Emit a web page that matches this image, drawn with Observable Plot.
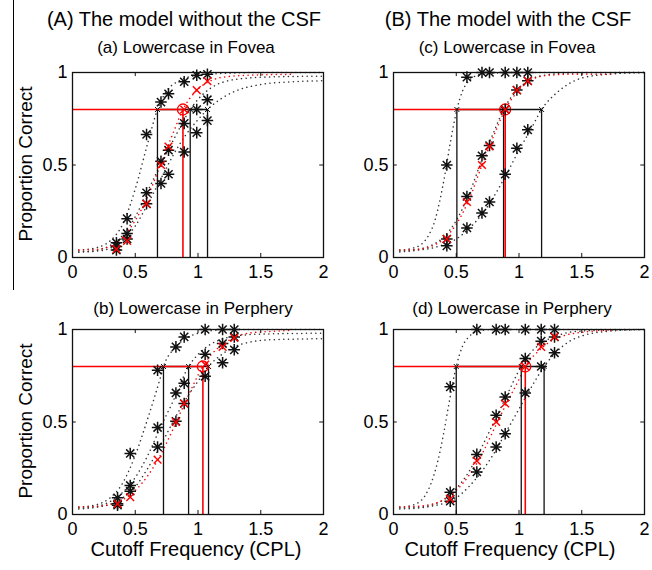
<!DOCTYPE html>
<html>
<head>
<meta charset="utf-8">
<script src="https://cdn.jsdelivr.net/npm/d3@7"></script>
<script src="https://cdn.jsdelivr.net/npm/@observablehq/plot@0.6"></script>
<style>
  body { margin: 0; background: #fff; }
  #fig { position: relative; width: 652px; height: 570px; background: #fff; overflow: hidden;
         font-family: "Liberation Sans", Arial, Helvetica, sans-serif; color: #000; }
  .lbl { position: absolute; white-space: nowrap; line-height: 1; transform: translate(-50%, -50%); }
  .vlbl { position: absolute; white-space: nowrap; line-height: 1; transform: translate(-50%, -50%) rotate(-90deg); }
  .panel { position: absolute; }
  .bar { position: absolute; left: 13px; top: 0; width: 1px; height: 290px; background: #000; }
</style>
</head>
<body>
<div id="fig"></div>
<script>
// Axis ticks and the 80% threshold criterion
const xTicks = [0, 0.5, 1, 1.5, 2];
const yTicks = [0, 0.5, 1];
const criterion = 0.8;

// Column titles, panel titles, axis labels
const columnTitles = ["(A) The model without the CSF", "(B) The model with the CSF"];
const panelTitles = ["(a) Lowercase in Fovea", "(b) Lowercase in Perphery", "(c) Lowercase in Fovea", "(d) Lowercase in Perphery"];
const xLabel = "Cutoff Frequency (CPL)";
const yLabel = "Proportion Correct";

// ---- (a) Lowercase in Fovea, without CSF ----
const aCurveLeft = [[0.05,0.04],[0.2,0.055],[0.3,0.09],[0.4,0.18],[0.5,0.37],[0.6,0.62],[0.677,0.8],[0.75,0.9],[0.85,0.955],[1.0,0.985],[1.2,0.995],[1.5,1.0],[2.0,1.0]];
const aCurveMid = [[0.05,0.03],[0.2,0.04],[0.3,0.065],[0.4,0.12],[0.5,0.22],[0.6,0.36],[0.7,0.5],[0.8,0.63],[0.938,0.8],[1.0,0.855],[1.1,0.915],[1.2,0.948],[1.4,0.97],[1.7,0.978],[2.0,0.98]];
const aCurveRight = [[0.05,0.03],[0.2,0.035],[0.3,0.05],[0.4,0.09],[0.5,0.17],[0.6,0.29],[0.7,0.42],[0.8,0.55],[0.9,0.66],[1.0,0.745],[1.076,0.8],[1.2,0.865],[1.3,0.9],[1.5,0.935],[1.75,0.95],[2.0,0.955]];
const aCurveRed = [[0.05,0.04],[0.2,0.045],[0.3,0.06],[0.4,0.11],[0.5,0.2],[0.6,0.33],[0.7,0.5],[0.8,0.67],[0.88,0.8],[1.0,0.91],[1.1,0.955],[1.2,0.975],[1.4,0.985],[1.75,0.99]];
const aStars = [[0.35,0.08],[0.35,0.06],[0.35,0.04],[0.435,0.21],[0.435,0.13],[0.435,0.10],[0.59,0.665],[0.59,0.35],[0.59,0.29],
  [0.705,0.84],[0.705,0.52],[0.705,0.40],[0.765,0.885],[0.765,0.58],[0.765,0.45],[0.89,0.95],[0.89,0.725],[0.89,0.57],
  [0.99,0.985],[0.99,0.80],[0.99,0.675],[1.075,0.99],[1.075,0.853],[1.075,0.74]];
const aCrosses = [[0.35,0.045],[0.435,0.09],[0.59,0.29],[0.705,0.50],[0.765,0.60],[0.89,0.80],[0.99,0.905],[1.075,0.953]];
const aThresholds = [0.677, 0.938, 1.076];
const aRedThreshold = 0.88;

// ---- (b) Lowercase in Perphery, without CSF ----
const bCurveLeft = [[0.05,0.04],[0.2,0.055],[0.3,0.09],[0.4,0.17],[0.5,0.32],[0.6,0.52],[0.7,0.74],[0.725,0.8],[0.8,0.89],[0.9,0.95],[1.0,0.98],[1.1,0.993],[1.3,1.0],[2.0,1.0]];
const bCurveMid = [[0.05,0.035],[0.2,0.045],[0.3,0.07],[0.4,0.12],[0.5,0.2],[0.6,0.32],[0.7,0.47],[0.8,0.61],[0.925,0.8],[1.0,0.865],[1.1,0.92],[1.2,0.95],[1.3,0.965],[1.5,0.975],[2.0,0.98]];
const bCurveRight = [[0.05,0.03],[0.2,0.04],[0.3,0.055],[0.4,0.09],[0.5,0.15],[0.6,0.25],[0.7,0.37],[0.8,0.5],[0.9,0.62],[1.0,0.72],[1.084,0.8],[1.2,0.87],[1.3,0.91],[1.4,0.93],[1.6,0.945],[2.0,0.95]];
const bCurveRed = [[0.05,0.04],[0.2,0.045],[0.3,0.055],[0.4,0.08],[0.5,0.13],[0.6,0.21],[0.7,0.32],[0.8,0.46],[0.9,0.61],[1.039,0.8],[1.1,0.86],[1.2,0.92],[1.3,0.96],[1.4,0.98],[1.6,0.99],[1.75,0.995]];
const bStars = [[0.359,0.09],[0.359,0.058],[0.359,0.05],[0.46,0.33],[0.46,0.157],[0.46,0.126],[0.678,0.78],[0.678,0.47],[0.678,0.365],
  [0.824,0.906],[0.824,0.657],[0.824,0.504],[0.89,0.96],[0.89,0.71],[0.89,0.60],[1.057,1.0],[1.057,0.866],[1.057,0.747],
  [1.196,1.0],[1.196,0.924],[1.196,0.82],[1.289,1.0],[1.289,0.96],[1.289,0.89]];
const bCrosses = [[0.359,0.058],[0.46,0.094],[0.678,0.296],[0.824,0.50],[0.89,0.60],[1.057,0.81],[1.196,0.906],[1.289,0.955]];
const bThresholds = [0.725, 0.925, 1.084];
const bRedThreshold = 1.039;

// ---- (c) Lowercase in Fovea, with CSF ----
const cCurveLeft = [[0.05,0.04],[0.15,0.05],[0.22,0.07],[0.28,0.12],[0.33,0.2],[0.37,0.31],[0.41,0.45],[0.45,0.61],[0.505,0.8],[0.55,0.9],[0.6,0.955],[0.65,0.98],[0.75,0.995],[1.0,1.0],[2.0,1.0]];
const cCurveMid = [[0.05,0.035],[0.2,0.045],[0.3,0.065],[0.4,0.11],[0.5,0.2],[0.6,0.34],[0.7,0.52],[0.8,0.68],[0.877,0.8],[1.0,0.915],[1.1,0.965],[1.2,0.985],[1.4,0.997],[2.0,1.0]];
const cCurveRight = [[0.05,0.03],[0.2,0.04],[0.3,0.05],[0.4,0.07],[0.5,0.1],[0.6,0.155],[0.7,0.23],[0.8,0.33],[0.9,0.45],[1.0,0.58],[1.1,0.7],[1.18,0.8],[1.3,0.89],[1.4,0.94],[1.5,0.97],[1.7,0.99],[2.0,1.0]];
const cCurveRed = [[0.05,0.04],[0.2,0.045],[0.3,0.06],[0.4,0.1],[0.5,0.18],[0.6,0.31],[0.7,0.49],[0.8,0.66],[0.89,0.8],[1.0,0.905],[1.1,0.96],[1.2,0.982],[1.4,0.99],[1.75,0.99]];
const cStars = [[0.425,0.50],[0.425,0.10],[0.425,0.063],[0.585,0.975],[0.585,0.33],[0.585,0.16],[0.705,1.0],[0.705,0.55],[0.705,0.24],
  [0.765,1.0],[0.765,0.605],[0.765,0.30],[0.89,1.0],[0.89,0.80],[0.89,0.45],[0.983,1.0],[0.983,0.905],[0.983,0.59],
  [1.07,1.0],[1.07,0.955],[1.07,0.69]];
const cCrosses = [[0.425,0.10],[0.585,0.30],[0.705,0.50],[0.765,0.60],[0.89,0.80],[0.983,0.905],[1.07,0.955]];
const cThresholds = [0.505, 0.877, 1.18];
const cRedThreshold = 0.89;

// ---- (d) Lowercase in Perphery, with CSF ----
const dCurveLeft = [[0.05,0.04],[0.15,0.05],[0.2,0.065],[0.25,0.1],[0.3,0.17],[0.35,0.28],[0.4,0.44],[0.45,0.63],[0.5,0.8],[0.55,0.91],[0.6,0.96],[0.67,0.99],[0.8,1.0],[2.0,1.0]];
const dCurveMid = [[0.05,0.035],[0.2,0.04],[0.3,0.05],[0.4,0.08],[0.5,0.14],[0.6,0.23],[0.7,0.36],[0.8,0.5],[0.9,0.64],[1.018,0.8],[1.1,0.88],[1.2,0.935],[1.3,0.965],[1.4,0.985],[1.6,0.995],[2.0,1.0]];
const dCurveRight = [[0.05,0.03],[0.2,0.035],[0.3,0.045],[0.4,0.06],[0.5,0.09],[0.6,0.15],[0.7,0.23],[0.8,0.33],[0.9,0.45],[1.0,0.57],[1.1,0.69],[1.2,0.8],[1.3,0.88],[1.4,0.935],[1.5,0.965],[1.7,0.99],[2.0,1.0]];
const dCurveRed = [[0.05,0.04],[0.2,0.045],[0.3,0.055],[0.4,0.08],[0.5,0.13],[0.6,0.21],[0.7,0.32],[0.8,0.46],[0.9,0.6],[1.0,0.73],[1.05,0.8],[1.15,0.88],[1.25,0.935],[1.35,0.965],[1.5,0.985],[1.75,0.995]];
const dStars = [[0.452,0.69],[0.452,0.12],[0.452,0.072],[0.664,1.0],[0.664,0.325],[0.664,0.23],[0.818,1.0],[0.818,0.536],[0.818,0.365],
  [0.89,1.0],[0.89,0.635],[0.89,0.437],[1.05,1.0],[1.05,0.843],[1.05,0.657],[1.177,1.0],[1.177,0.937],[1.177,0.80],
  [1.283,1.0],[1.283,0.96],[1.283,0.874]];
const dCrosses = [[0.452,0.085],[0.664,0.29],[0.818,0.50],[0.89,0.60],[1.05,0.80],[1.177,0.906],[1.283,0.96]];
const dThresholds = [0.50, 1.018, 1.20];
const dRedThreshold = 1.05;

const ink = "#111";
const red = "#ff0000";
const fontStack = '"Liberation Sans", Arial, Helvetica, sans-serif';

function panel({curves, redCurve, stars, crosses, thresholds, redThreshold}) {
  const lo = d3.min(thresholds), hi = d3.max(thresholds);
  // MATLAB-style dotted line: small round dots, evenly spaced
  const dotted = {x: "0", y: "1", curve: "monotone-x", strokeWidth: 1.5, strokeDasharray: "0.1,4.6", strokeLinecap: "round"};
  const inner = xTicks.slice(1, -1);
  const innerY = yTicks.slice(1, -1);
  return Plot.plot({
    width: 330, height: 230,
    marginLeft: 72, marginRight: 7, marginTop: 12, marginBottom: 33,
    x: {domain: [0, 2], label: null},
    y: {domain: [0, 1], label: null},
    style: {fontFamily: fontStack, fontSize: "18px", background: "transparent", overflow: "visible", color: "#000"},
    marks: [
      // fitted psychometric curves
      ...curves.map((c) => Plot.line(c, {...dotted, stroke: "#333"})),
      Plot.line(redCurve, {...dotted, stroke: red}),
      // threshold guides at the criterion level
      Plot.ruleX(thresholds, {y1: 0, y2: criterion, stroke: ink, strokeWidth: 1.3}),
      Plot.ruleY([criterion], {x1: lo, x2: hi, stroke: ink, strokeWidth: 1.3}),
      Plot.ruleY([criterion], {x1: 0, x2: redThreshold, stroke: red, strokeWidth: 1.6}),
      Plot.ruleX([redThreshold], {y1: 0, y2: criterion, stroke: red, strokeWidth: 1.6}),
      // inward tick marks on all four sides
      Plot.ruleX(inner, {y1: 0, y2: 0.022, stroke: ink}),
      Plot.ruleX(inner, {y1: 1, y2: 0.978, stroke: ink}),
      Plot.ruleY(innerY, {x1: 0, x2: 0.03, stroke: ink}),
      Plot.ruleY(innerY, {x1: 2, x2: 1.97, stroke: ink}),
      Plot.frame({stroke: ink, strokeWidth: 1.3}),
      // threshold markers
      Plot.dot([[redThreshold, criterion]], {x: "0", y: "1", r: 5.5, fill: "none", stroke: red, strokeWidth: 1.3}),
      Plot.dot(thresholds, {x: (d) => d, y: criterion, symbol: "times", r: 2.4, stroke: ink, strokeWidth: 1}),
      // observations: black asterisks, red crosses
      Plot.dot(stars, {x: "0", y: "1", symbol: "plus", r: 3.8, stroke: ink, strokeWidth: 1.5}),
      Plot.dot(stars, {x: "0", y: "1", symbol: "times", r: 3.8, stroke: ink, strokeWidth: 1.5}),
      Plot.dot(stars, {x: "0", y: "1", r: 1.8, fill: ink, stroke: "none"}),
      Plot.dot(crosses, {x: "0", y: "1", symbol: "times", r: 3.6, stroke: red, strokeWidth: 1.4}),
      // tick labels
      Plot.axisX(xTicks, {tickSize: 0, tickPadding: 8, tickFormat: (d) => String(d)}),
      Plot.axisY(yTicks, {tickSize: 0, tickPadding: 5, tickFormat: (d) => String(d)})
    ]
  });
}

const fig = document.getElementById("fig");

function place(node, left, top) {
  node.classList.add("panel");
  node.style.left = left + "px";
  node.style.top = top + "px";
  fig.appendChild(node);
}

function label(text, cls, x, y, size) {
  const el = document.createElement("div");
  el.className = cls;
  el.textContent = text;
  el.style.left = x + "px";
  el.style.top = y + "px";
  el.style.fontSize = size + "px";
  fig.appendChild(el);
}

const bar = document.createElement("div");
bar.className = "bar";
fig.appendChild(bar);

place(panel({curves: [aCurveLeft, aCurveMid, aCurveRight], redCurve: aCurveRed, stars: aStars, crosses: aCrosses, thresholds: aThresholds, redThreshold: aRedThreshold}), 0, 60);
place(panel({curves: [bCurveLeft, bCurveMid, bCurveRight], redCurve: bCurveRed, stars: bStars, crosses: bCrosses, thresholds: bThresholds, redThreshold: bRedThreshold}), 0, 317);
place(panel({curves: [cCurveLeft, cCurveMid, cCurveRight], redCurve: cCurveRed, stars: cStars, crosses: cCrosses, thresholds: cThresholds, redThreshold: cRedThreshold}), 321, 60);
place(panel({curves: [dCurveLeft, dCurveMid, dCurveRight], redCurve: dCurveRed, stars: dStars, crosses: dCrosses, thresholds: dThresholds, redThreshold: dRedThreshold}), 321, 317);

label(columnTitles[0], "lbl", 184, 19, 20);
label(columnTitles[1], "lbl", 508, 19, 20);
label(panelTitles[0], "lbl", 186, 47, 17);
label(panelTitles[1], "lbl", 193, 308, 17);
label(panelTitles[2], "lbl", 507, 47, 17);
label(panelTitles[3], "lbl", 512, 308, 17);
label(xLabel, "lbl", 196, 549, 20);
label(xLabel, "lbl", 510, 549, 20);
label(yLabel, "vlbl", 25, 164, 19);
label(yLabel, "vlbl", 25, 421, 19);
</script>
</body>
</html>
